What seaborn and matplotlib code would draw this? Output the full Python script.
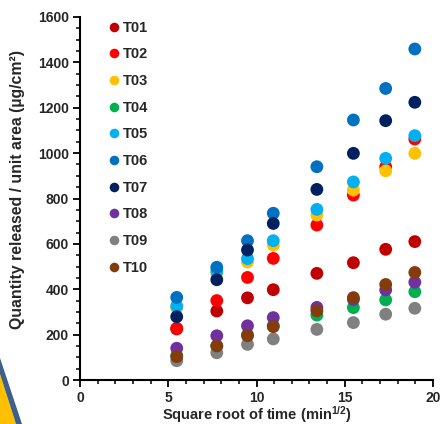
import numpy as np
import pandas as pd
import matplotlib
matplotlib.use("Agg")
import matplotlib.pyplot as plt
from matplotlib.patches import Polygon
from matplotlib.ticker import MultipleLocator
import seaborn as sns

# Data
sqrt_time = [5.48, 7.75, 9.49, 10.95, 13.42, 15.49, 17.32, 18.97]
formulations = ["T01", "T02", "T03", "T04", "T05", "T06", "T07", "T08", "T09", "T10"]
T01 = [225, 304, 362, 398, 470, 517, 576, 610]
T02 = [228, 350, 452, 536, 683, 815, 940, 1062]
T03 = [318, 470, 520, 595, 727, 837, 922, 999]
T04 = [108, 150, 200, 240, 286, 319, 353, 389]
T05 = [326, 480, 535, 614, 752, 873, 977, 1077]
T06 = [364, 497, 614, 735, 940, 1146, 1285, 1459]
T07 = [279, 442, 573, 690, 840, 999, 1143, 1224]
T08 = [140, 195, 239, 275, 320, 355, 397, 431]
T09 = [85, 120, 157, 181, 223, 253, 290, 316]
T10 = [103, 150, 195, 235, 305, 363, 421, 474]
series = [T01, T02, T03, T04, T05, T06, T07, T08, T09, T10]
colors = ["#C00000", "#FF0000", "#FFC000", "#00B050", "#00B0F0",
          "#0070C0", "#002060", "#7030A0", "#808080", "#843C0C"]

rows = []
for name, vals in zip(formulations, series):
    for x, y in zip(sqrt_time, vals):
        rows.append({"x": x, "y": y, "Formulation": name})
df = pd.DataFrame(rows)

sns.set_style("white")
plt.rcParams["font.family"] = ["Liberation Sans", "DejaVu Sans"]
plt.rcParams["mathtext.fontset"] = "custom"
plt.rcParams["mathtext.rm"] = "Liberation Sans:bold"
plt.rcParams["mathtext.bf"] = "Liberation Sans:bold"
plt.rcParams["mathtext.it"] = "Liberation Sans:bold"

fig = plt.figure(figsize=(4.46, 4.24), dpi=100)
ax = fig.add_axes([80/446, 1-380/424, 353/446, 363/424])

sns.scatterplot(data=df, x="x", y="y", hue="Formulation", palette=colors,
                hue_order=formulations, s=85, linewidth=0, ax=ax, legend=True)

ax.set_xlim(0, 20)
ax.set_ylim(0, 1600)
ax.xaxis.set_major_locator(MultipleLocator(5))
ax.xaxis.set_minor_locator(MultipleLocator(1))
ax.yaxis.set_major_locator(MultipleLocator(200))
ax.yaxis.set_minor_locator(MultipleLocator(50))
for s in ["top", "right"]:
    ax.spines[s].set_visible(False)
for s in ["left", "bottom"]:
    ax.spines[s].set_color("black")
    ax.spines[s].set_linewidth(1.5)
ax.tick_params(which="major", direction="out", length=5, width=1.3, color="black",
               labelsize=10, left=True, bottom=True, pad=3)
ax.tick_params(which="minor", direction="out", length=3, width=1.1, color="black",
               left=True, bottom=True)
for lab in ax.get_xticklabels() + ax.get_yticklabels():
    lab.set_fontweight("bold")

ax.set_xlabel(r"Square root of time (min$^{1/2}$)", fontsize=10.5, fontweight="bold")
ax.xaxis.set_label_coords(0.5, -0.066)
ax.set_ylabel("Quantity released / unit area (µg/cm²)", fontsize=11.4, fontweight="bold")
ax.yaxis.set_label_coords(-0.157, 0.526)

handles, labels = ax.get_legend_handles_labels()
leg = ax.legend(handles, labels, loc="upper left", bbox_to_anchor=(0.056, 1.006),
                frameon=False, prop={"weight": "bold", "size": 10.5},
                markerscale=0.75, handletextpad=0.0, labelspacing=0.87,
                borderaxespad=0.0, handlelength=1.2)

# decorative corner shape
def P(x, y):
    return (x/446, 1 - y/424)
fig.add_artist(Polygon([P(0, 374), P(16, 424), P(0, 424)], closed=True,
                       facecolor="#FFC000", edgecolor="none", transform=fig.transFigure))
fig.add_artist(Polygon([P(0, 358), P(22, 424), P(16, 424), P(0, 374)], closed=True,
                       facecolor="#3E5F8A", edgecolor="none", transform=fig.transFigure))

fig.savefig("out.png", dpi=100)
